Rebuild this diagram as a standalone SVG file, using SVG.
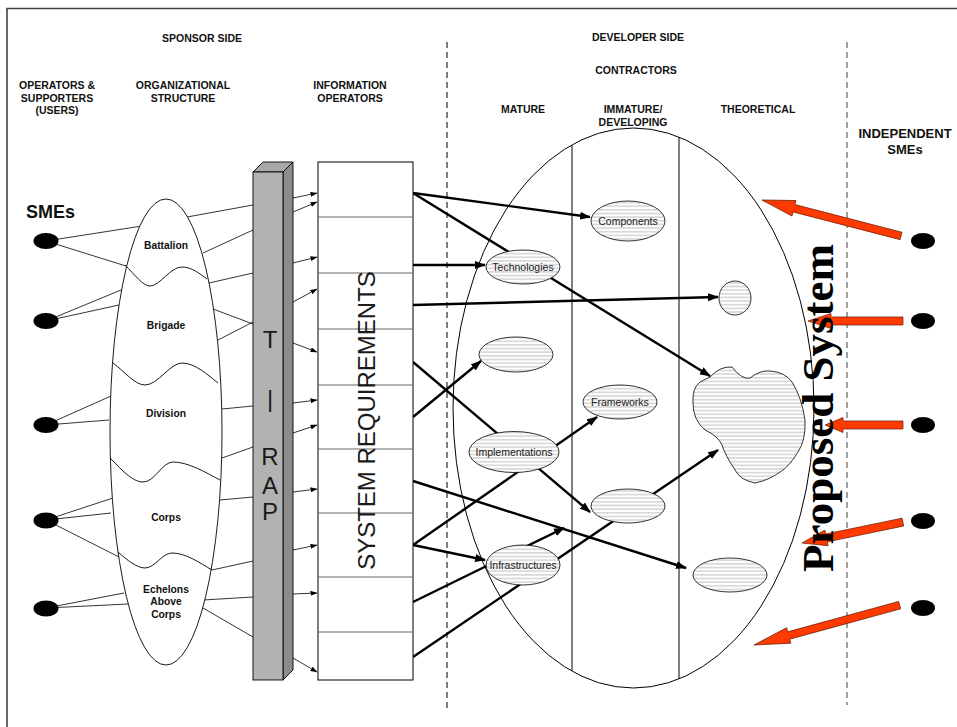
<svg xmlns="http://www.w3.org/2000/svg" width="957" height="727" viewBox="0 0 957 727">
<style>
.h{font-family:"Liberation Sans",Arial,sans-serif;font-weight:bold;font-size:10.5px;fill:#111;text-anchor:middle}
.org{font-family:"Liberation Sans",Arial,sans-serif;font-weight:bold;font-size:10.3px;fill:#111;text-anchor:middle}
.lbl{font-family:"Liberation Sans",Arial,sans-serif;font-size:10.5px;fill:#222;text-anchor:middle}
.big{font-family:"Liberation Sans",Arial,sans-serif;font-size:24px;fill:#1a1a1a;text-anchor:middle}
.thin{stroke:#000;stroke-width:0.8;fill:none}
.thick{stroke:#000;stroke-width:2.4;fill:none;marker-end:url(#ah)}
.tarr{stroke:#000;stroke-width:0.8;fill:none;marker-end:url(#ta)}
.hatch{fill:url(#hp);stroke:#000;stroke-width:0.8}
.dot{fill:#000}
.red{fill:#ff3a00;stroke:#6a1a00;stroke-width:0.7}
</style>
<defs>
<pattern id="hp" patternUnits="userSpaceOnUse" width="8" height="3.65"><rect width="8" height="3.65" fill="#fff"/><line x1="0" y1="1.8" x2="8" y2="1.8" stroke="#a8a8a8" stroke-width="0.8"/></pattern>
<marker id="ah" markerUnits="userSpaceOnUse" markerWidth="11" markerHeight="9" viewBox="0 0 11 9" refX="10" refY="4.5" orient="auto"><path d="M0,0.5 L11,4.5 L0,8.5 z" fill="#000"/></marker>
<marker id="ta" markerUnits="userSpaceOnUse" markerWidth="7" markerHeight="5" viewBox="0 0 7 5" refX="6.5" refY="2.5" orient="auto"><path d="M0,0 L7,2.5 L0,5 z" fill="#000"/></marker>
</defs>
<rect width="957" height="727" fill="#fff"/>
<g id="frame" stroke="#444" stroke-width="1.6" fill="none"><path d="M7,727 V8.5 H957"/></g>

<g id="headers">
<text class="h" x="202" y="41.5">SPONSOR SIDE</text>
<text class="h" x="57" y="89">OPERATORS &amp;</text>
<text class="h" x="57" y="101.5">SUPPORTERS</text>
<text class="h" x="57" y="114">(USERS)</text>
<text class="h" x="183" y="89">ORGANIZATIONAL</text>
<text class="h" x="183" y="101.5">STRUCTURE</text>
<text class="h" x="350" y="89">INFORMATION</text>
<text class="h" x="350" y="101.5">OPERATORS</text>
<text class="h" x="638" y="41">DEVELOPER SIDE</text>
<text class="h" x="636" y="74">CONTRACTORS</text>
<text class="h" x="523" y="113">MATURE</text>
<text class="h" x="633" y="113">IMMATURE/</text>
<text class="h" x="633" y="126">DEVELOPING</text>
<text class="h" x="758" y="113">THEORETICAL</text>
<text class="h" x="905" y="138" style="font-size:13px">INDEPENDENT</text>
<text class="h" x="905" y="154" style="font-size:13px">SMEs</text>
<text class="h" x="26" y="218" style="font-size:18px;text-anchor:start">SMEs</text>
</g>

<g id="dividers">
<line x1="447" y1="42" x2="447" y2="710" stroke="#000" stroke-width="1" stroke-dasharray="6,4"/>
<line x1="847" y1="42" x2="847" y2="705" stroke="#808080" stroke-width="1.5" stroke-dasharray="6,4"/>
</g>

<g id="contractors">
<ellipse cx="633.5" cy="408" rx="180.5" ry="280" fill="#fff" stroke="#000" stroke-width="1"/>
<line x1="572" y1="145" x2="572" y2="671" stroke="#000" stroke-width="1"/>
<line x1="679" y1="137" x2="679" y2="679" stroke="#000" stroke-width="1"/>
</g>

<g id="connectors">
<g id="left-lines" class="thin">
<line x1="46" y1="241" x2="142" y2="226"/>
<line x1="187" y1="217" x2="253" y2="205"/>
<line x1="46" y1="241" x2="126" y2="266"/>
<line x1="203" y1="253" x2="253" y2="230"/>
<line x1="209" y1="283" x2="253" y2="273"/>
<line x1="46" y1="321" x2="121" y2="290"/>
<line x1="46" y1="321" x2="119" y2="305"/>
<line x1="213" y1="309" x2="253" y2="324"/>
<line x1="218" y1="340" x2="253" y2="322"/>
<line x1="46" y1="425" x2="111" y2="396"/>
<line x1="46" y1="425" x2="109" y2="420"/>
<line x1="222" y1="409" x2="253" y2="406"/>
<line x1="222" y1="458" x2="253" y2="447"/>
<line x1="220" y1="500" x2="253" y2="497"/>
<line x1="46" y1="520" x2="113" y2="498"/>
<line x1="46" y1="520" x2="111" y2="513"/>
<line x1="46" y1="520" x2="119" y2="557"/>
<line x1="212" y1="570" x2="253" y2="561"/>
<line x1="46" y1="608" x2="124" y2="593"/>
<line x1="46" y1="608" x2="128" y2="604"/>
<line x1="203" y1="600" x2="253" y2="597"/>
<line x1="203" y1="608" x2="253" y2="637"/>
</g>
<g id="tirap-arrows" class="tarr">
<line x1="293" y1="198" x2="317" y2="193"/>
<line x1="293" y1="212" x2="317" y2="202"/>
<line x1="293" y1="263" x2="317" y2="257"/>
<line x1="293" y1="302" x2="317" y2="289"/>
<line x1="293" y1="343" x2="317" y2="352"/>
<line x1="293" y1="403" x2="317" y2="400"/>
<line x1="293" y1="433" x2="317" y2="425"/>
<line x1="293" y1="492" x2="317" y2="489"/>
<line x1="293" y1="550" x2="317" y2="545"/>
<line x1="293" y1="594" x2="317" y2="593"/>
<line x1="293" y1="658" x2="317" y2="672"/>
</g>
<g id="req-arrows" class="thick">
<line x1="413" y1="193" x2="590" y2="217"/>
<line x1="413" y1="193" x2="710" y2="376"/>
<line x1="413" y1="265" x2="485" y2="265"/>
<line x1="413" y1="305" x2="718" y2="297"/>
<line x1="413" y1="362" x2="590" y2="512"/>
<line x1="413" y1="417" x2="481" y2="361"/>
<line x1="413" y1="481" x2="686" y2="568"/>
<line x1="413" y1="545" x2="597" y2="417"/>
<line x1="413" y1="545" x2="485" y2="560"/>
<line x1="413" y1="602" x2="564" y2="528"/>
<line x1="413" y1="657" x2="718" y2="450"/>
</g>
</g>

<g id="org-structure">
<ellipse cx="166" cy="432" rx="56" ry="233" fill="#fff" stroke="#000" stroke-width="0.9"/>
<g fill="none" stroke="#000" stroke-width="0.9">
<path d="M125,265 C135,275 143,286 150,286 C160,286 170,267 182,267 C192,267 200,274 207,279"/>
<path d="M113,363 C125,372 135,385 145,385 C158,385 170,363 182,363 C195,363 208,375 218,383"/>
<path d="M110,458 C120,468 132,482 143,482 C155,482 162,462 173,462 C188,462 205,472 220,480"/>
<path d="M118,552 C127,560 137,568 145,568 C155,568 162,553 172,553 C186,553 200,563 212,570"/>
</g>
<text class="org" x="166" y="249">Battalion</text>
<text class="org" x="166" y="329">Brigade</text>
<text class="org" x="166" y="417">Division</text>
<text class="org" x="166" y="521">Corps</text>
<text class="org" x="166" y="593">Echelons</text>
<text class="org" x="166" y="605">Above</text>
<text class="org" x="166" y="618">Corps</text>
</g>

<g id="smes-left">
<ellipse class="dot" cx="46" cy="241" rx="12.5" ry="8"/>
<ellipse class="dot" cx="46" cy="321" rx="12.5" ry="8"/>
<ellipse class="dot" cx="46" cy="425" rx="12.5" ry="8"/>
<ellipse class="dot" cx="46" cy="520.5" rx="12.5" ry="8"/>
<ellipse class="dot" cx="46" cy="608.5" rx="12.5" ry="8"/>
</g>

<g id="tirap">
<path d="M253,172 L263,162 L293,162 L283,172 Z" fill="#a8a8a8" stroke="#000" stroke-width="0.9"/>
<path d="M283,172 L293,162 L293,670 L283,680 Z" fill="#8c8c8c" stroke="#000" stroke-width="0.9"/>
<rect x="253" y="172" width="30" height="508" fill="#b2b2b2" stroke="#000" stroke-width="0.9"/>
<text class="big" x="270" y="348">T</text>
<text class="big" x="270" y="407">|</text>
<text class="big" x="270" y="465">R</text>
<text class="big" x="270" y="494">A</text>
<text class="big" x="270" y="520">P</text>
</g>

<g id="system-requirements">
<rect x="318" y="162" width="95" height="518" fill="#fff" stroke="#000" stroke-width="1"/>
<g stroke="#666" stroke-width="1">
<line x1="318" y1="217" x2="413" y2="217"/>
<line x1="318" y1="273" x2="413" y2="273"/>
<line x1="318" y1="329" x2="413" y2="329"/>
<line x1="318" y1="385" x2="413" y2="385"/>
<line x1="318" y1="449" x2="413" y2="449"/>
<line x1="318" y1="513" x2="413" y2="513"/>
<line x1="318" y1="577" x2="413" y2="577"/>
<line x1="318" y1="632" x2="413" y2="632"/>
</g>
<text class="big" transform="translate(375,420.5) rotate(-90)">SYSTEM REQUIREMENTS</text>
</g>

<g id="components"><ellipse class="hatch" cx="628" cy="221" rx="37" ry="20"/><text class="lbl" x="628" y="224.5">Components</text></g>
<g id="technologies"><ellipse class="hatch" cx="523" cy="267" rx="37" ry="17"/><text class="lbl" x="523" y="270.5">Technologies</text></g>
<g id="mature-blank"><ellipse class="hatch" cx="516" cy="354.5" rx="37" ry="17.5"/></g>
<g id="frameworks"><ellipse class="hatch" cx="620" cy="402" rx="37" ry="17"/><text class="lbl" x="620" y="405.5">Frameworks</text></g>
<g id="implementations"><ellipse class="hatch" cx="514" cy="452" rx="45" ry="20.5"/><text class="lbl" x="514" y="455.5">Implementations</text></g>
<g id="developing-blank"><ellipse class="hatch" cx="628" cy="506" rx="37" ry="17"/></g>
<g id="infrastructures"><ellipse class="hatch" cx="523" cy="565" rx="37" ry="20"/><text class="lbl" x="523" y="568.5">Infrastructures</text></g>
<g id="theoretical-blank"><ellipse class="hatch" cx="730" cy="575" rx="37" ry="17"/></g>
<g id="theoretical-circle"><ellipse class="hatch" cx="735" cy="298" rx="16" ry="17"/></g>
<g id="theoretical-blob"><path class="hatch" d="M710,377 Q720,366 732,367 Q742,380 750,378 Q760,370 770,371 Q785,372 792,382 Q802,398 805,420 Q806,440 798,452 Q790,465 783,470 Q770,480 755,483 Q740,480 735,470 Q725,455 722,445 Q718,436 705,430 Q693,420 693,403 Q692,388 700,382 Z"/></g>

<g id="independent-smes">
<ellipse class="dot" cx="923" cy="241" rx="12" ry="8"/>
<ellipse class="dot" cx="923" cy="321" rx="12" ry="8"/>
<ellipse class="dot" cx="923" cy="425" rx="12" ry="8"/>
<ellipse class="dot" cx="923" cy="521" rx="12" ry="8"/>
<ellipse class="dot" cx="923" cy="608" rx="12" ry="8"/>
</g>

<g id="red-arrows">
<path class="red" transform="translate(762,200) rotate(14.5)" d="M0,0 L33,-8 L33,-3.8 L143.6,-3.8 L143.6,3.8 L33,3.8 L33,8 Z"/>
<path class="red" transform="translate(808,321)" d="M0,0 L23,-7.5 L23,-4 L95,-4 L95,4 L23,4 L23,7.5 Z"/>
<path class="red" transform="translate(825,425)" d="M0,0 L18,-7.5 L18,-4 L78,-4 L78,4 L18,4 L18,7.5 Z"/>
<path class="red" transform="translate(802,543) rotate(-11.7)" d="M0,0 L25,-8 L25,-4 L103,-4 L103,4 L25,4 L25,8 Z"/>
<path class="red" transform="translate(754,645) rotate(-15.3)" d="M0,0 L36,-8 L36,-3.8 L151,-3.8 L151,3.8 L36,3.8 L36,8 Z"/>
</g>

<g id="proposed-system">
<text transform="translate(833,408) rotate(-90)" text-anchor="middle" style="font-family:'Liberation Serif','Times New Roman',serif;font-weight:bold;font-size:45px;fill:#000">Proposed System</text>
</g>
</svg>
